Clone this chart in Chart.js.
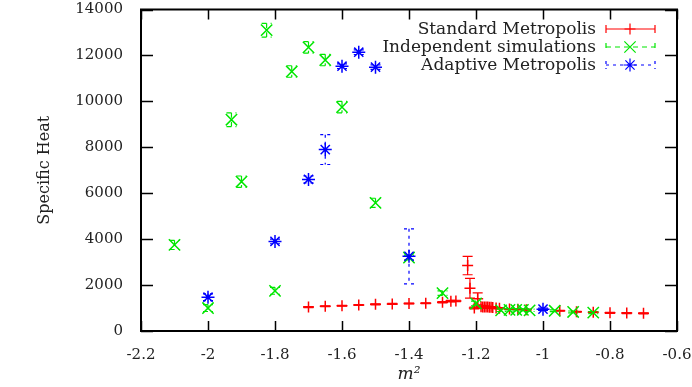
<!DOCTYPE html>
<html>
<head>
<meta charset="utf-8">
<script src="https://cdn.jsdelivr.net/npm/chart.js@4"></script>
<style>
  body { margin: 0; background: #fff; }
  #wrap { width: 692px; height: 387px; }
</style>
</head>
<body>
<div id="wrap"><canvas id="heatChart"></canvas></div>
<script>
// Standard Metropolis
const stdX   = [-1.7, -1.65, -1.6, -1.55, -1.5, -1.45, -1.4, -1.35, -1.3, -1.275, -1.26,
                -1.225, -1.218, -1.205, -1.195, -1.185, -1.18, -1.175, -1.17, -1.165, -1.16,
                -1.155, -1.15, -1.14, -1.13, -1.1, -1.075, -1.05, -0.95, -0.9, -0.85, -0.8, -0.75, -0.7];
const stdY   = [1040, 1080, 1100, 1130, 1160, 1180, 1200, 1210, 1250, 1300, 1310,
                2850, 1860, 1000, 1400, 1060, 1050, 1050, 1040, 1040, 1030,
                1030, 1020, 1000, 990, 960, 950, 930, 880, 840, 820, 790, 780, 770];
const stdErr = [20, 20, 20, 20, 20, 20, 20, 20, 30, 30, 30,
                400, 430, 40, 260, 60, 40, 40, 30, 30, 30,
                30, 30, 30, 30, 20, 20, 20, 20, 20, 20, 20, 20, 20];

// Independent simulations
const indX   = [-2.1, -2.0, -1.93, -1.9, -1.825, -1.8, -1.75, -1.7, -1.65, -1.6, -1.5, -1.4,
                -1.3, -1.2, -1.125, -1.1, -1.08, -1.06, -1.04, -0.965, -0.91, -0.85];
const indY   = [3750, 1000, 9200, 6500, 13100, 1750, 11300, 12350, 11800, 9750, 5580, 3200,
                1650, 1200, 900, 920, 920, 920, 900, 880, 830, 800];
const indErr = [200, 150, 300, 250, 300, 150, 250, 250, 250, 250, 200, 100,
                100, 100, 50, 50, 50, 50, 50, 40, 40, 40];

// Adaptive Metropolis
const adaX   = [-2.0, -1.8, -1.7, -1.65, -1.6, -1.55, -1.5, -1.4, -1.0];
const adaY   = [1470, 3900, 6600, 7900, 11530, 12140, 11490, 3250, 950];
const adaErr = [150, 100, 150, 650, 100, 100, 100, 1200, 50];

const xTicks = [-2.2, -2, -1.8, -1.6, -1.4, -1.2, -1, -0.8, -0.6];

const serif = "'DejaVu Serif', serif";

function pts(xs, ys) {
    return xs.map((x, i) => ({ x: x, y: ys[i] }));
}

const seriesErr = [stdErr, indErr, adaErr];
const seriesDash = [[], [5, 4], [3, 4]];

// gnuplot-ish error bars, drawn right after each dataset
const errorBars = {
    id: 'errorBars',
    afterDatasetDraw(chart, args) {
        const ctx = chart.ctx;
        const ds = chart.data.datasets[args.index];
        const errs = seriesErr[args.index];
        const xs = chart.scales.x, ys = chart.scales.y;
        ctx.save();
        ctx.strokeStyle = ds.borderColor;
        ctx.lineWidth = 1.2;
        ctx.setLineDash(seriesDash[args.index]);
        ds.data.forEach((p, i) => {
            const px = xs.getPixelForValue(p.x);
            const top = ys.getPixelForValue(p.y + errs[i]);
            const bot = ys.getPixelForValue(p.y - errs[i]);
            ctx.beginPath();
            ctx.moveTo(px, top); ctx.lineTo(px, bot);
            ctx.moveTo(px - 5, top); ctx.lineTo(px + 5, top);
            ctx.moveTo(px - 5, bot); ctx.lineTo(px + 5, bot);
            ctx.stroke();
        });
        ctx.restore();
    }
};

// full box with inward ticks on all four sides, plus the key
const frameAndKey = {
    id: 'frameAndKey',
    afterDraw(chart) {
        const ctx = chart.ctx;
        const a = chart.chartArea;
        const xs = chart.scales.x, ys = chart.scales.y;
        ctx.save();
        ctx.strokeStyle = '#000';
        ctx.lineWidth = 1.5;
        ctx.beginPath();
        xs.ticks.forEach(t => {
            const px = Math.round(xs.getPixelForValue(t.value)) + 0.5;
            ctx.moveTo(px, a.bottom); ctx.lineTo(px, a.bottom - 10);
            ctx.moveTo(px, a.top); ctx.lineTo(px, a.top + 10);
        });
        ys.ticks.forEach(t => {
            const py = Math.round(ys.getPixelForValue(t.value)) + 0.5;
            ctx.moveTo(a.left, py); ctx.lineTo(a.left + 12, py);
            ctx.moveTo(a.right, py); ctx.lineTo(a.right - 12, py);
        });
        ctx.stroke();
        ctx.lineWidth = 2;
        ctx.strokeRect(a.left, a.top, a.right - a.left, a.bottom - a.top);

        // key
        const rows = [29, 47, 65];
        ctx.font = '17px ' + serif;
        ctx.textAlign = 'right';
        ctx.textBaseline = 'middle';
        chart.data.datasets.forEach((ds, i) => {
            const y = rows[i];
            ctx.fillStyle = '#222';
            ctx.fillText(ds.label, 596, y + 1);
            ctx.strokeStyle = ds.borderColor;
            ctx.lineWidth = 1.2;
            ctx.setLineDash(seriesDash[i]);
            ctx.beginPath();
            ctx.moveTo(606, y); ctx.lineTo(655, y);
            ctx.moveTo(606, y - 4); ctx.lineTo(606, y + 4);
            ctx.moveTo(655, y - 4); ctx.lineTo(655, y + 4);
            ctx.stroke();
            ctx.setLineDash([]);
            Chart.helpers.drawPoint(ctx, {
                pointStyle: ds.pointStyle, radius: ds.pointRadius, borderWidth: 1.5
            }, 630, y);
        });
        ctx.restore();
    }
};

const heatCtx = document.getElementById('heatChart').getContext('2d');

let heatChart = new Chart(heatCtx, {
    type: 'scatter',
    data: {
        datasets: [{
            label: 'Standard Metropolis',
            data: pts(stdX, stdY),
            borderColor: 'rgb(255, 0, 0)',
            pointStyle: 'cross',
            pointRadius: 5.5,
            pointBorderWidth: 1.5,
            order: 2
        }, {
            label: 'Independent simulations',
            data: pts(indX, indY),
            borderColor: 'rgb(0, 230, 0)',
            pointStyle: 'crossRot',
            pointRadius: 8,
            pointBorderWidth: 1.5,
            order: 1
        }, {
            label: 'Adaptive Metropolis',
            data: pts(adaX, adaY),
            borderColor: 'rgb(0, 0, 255)',
            pointStyle: 'star',
            pointRadius: 6.5,
            pointBorderWidth: 1.5,
            order: 0
        }]
    },
    options: {
        responsive: true,
        maintainAspectRatio: false,
        animation: false,
        layout: { padding: { left: 0, right: 15, top: 8, bottom: 0 } },
        plugins: {
            legend: { display: false },
            tooltip: { enabled: false }
        },
        scales: {
            x: {
                type: 'linear',
                min: -2.2,
                max: -0.6,
                afterBuildTicks: axis => { axis.ticks = xTicks.map(v => ({ value: v })); },
                afterFit: axis => {
                    axis.height = 56;
                    axis.paddingLeft = 0;
                    axis.paddingRight = 0;
                },
                grid: { display: false },
                border: { display: false },
                ticks: {
                    color: '#222',
                    font: { family: serif, size: 15 },
                    padding: 7,
                    maxRotation: 0,
                    callback: v => String(Math.round(v * 10) / 10)
                },
                title: {
                    display: true,
                    text: 'm²',
                    color: '#222',
                    font: { family: serif, size: 17, style: 'italic' },
                    padding: { top: 0, bottom: 2 }
                }
            },
            y: {
                min: 0,
                max: 14000,
                afterFit: axis => {
                    axis.width = 141;
                    axis.paddingTop = 0;
                    axis.paddingBottom = 0;
                },
                grid: { display: false },
                border: { display: false },
                ticks: {
                    stepSize: 2000,
                    color: '#222',
                    font: { family: serif, size: 15 },
                    padding: 10,
                    callback: v => String(v)
                },
                title: {
                    display: true,
                    text: 'Specific Heat',
                    color: '#222',
                    font: { family: serif, size: 16 },
                    padding: { top: 35, bottom: 0 }
                }
            }
        }
    },
    plugins: [errorBars, frameAndKey]
});
</script>
</body>
</html>
